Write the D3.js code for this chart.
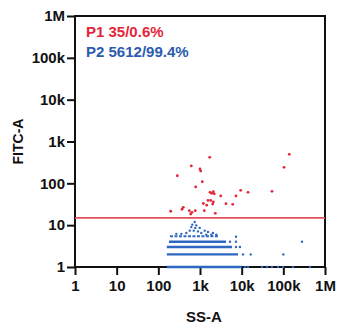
<!DOCTYPE html>
<html>
<head>
<meta charset="utf-8">
<script src="https://cdn.jsdelivr.net/npm/d3@7"></script>
<style>
  html, body { margin: 0; padding: 0; background: #fff; }
  svg { display: block; }
  text { font-family: "Liberation Sans", Arial, sans-serif; font-weight: bold; }
</style>
</head>
<body>
<svg id="chart" width="340" height="334"></svg>
<script>
// Decade ticks shared by both log axes
const tickValues = [1, 10, 100, 1e3, 1e4, 1e5, 1e6];
const tickLabels = ["1", "10", "100", "1k", "10k", "100k", "1M"];

// Gate threshold on FITC-A separating P1 (above) from P2 (below)
const gateFITC = 15;

// P1 events (SS-A, FITC-A)
const p1SS = [139000, 104000, 1710, 618, 1000, 1040, 285, 1135, 789, 1738,
              2085, 2203, 1910, 3140, 9480, 14200, 53400, 7310, 1555, 1805,
              2085, 1200, 1448, 2017, 4205, 6090, 397, 370, 198, 554,
              771, 1268, 643, 598, 2330];
const p1FITC = [494, 242, 419, 260, 220, 197, 152, 109, 82, 61,
                63, 56, 58, 50, 68, 61, 64.5, 50, 39, 39,
                36, 33, 30, 32, 32.6, 31.5, 26.7, 24, 21.5, 22.2,
                22.2, 22.2, 20.3, 18.5, 19.2];

// P2 dense low-FITC bands: FITC level and SS-A extent of the packed events
const bandFITC = [1, 2, 3, 4];
const bandSSmin = [160, 160, 160, 180];
const bandSSmax = [10000, 8170, 5860, 4200];

// Sparser band just above, drawn broken
const sparseBandFITC = 5.4;
const sparseBandSS = [190, 2700];

// P2 isolated events (SS-A, FITC-A)
const p2SS = [12000, 14200, 30700, 40500, 53400, 74400, 98000, 171000, 436000,
              10800, 16500, 100000,
              7300, 9100,
              5250, 7300, 281000,
              7300,
              746, 653, 815, 618, 771, 984, 566, 706, 895, 1297,
              1555, 469, 1074, 2050, 270, 356, 1866, 2460, 1416];
const p2FITC = [1, 1, 1, 1, 1, 1, 1, 1, 1,
                2, 2, 2,
                3, 3,
                4, 4, 4,
                5.3,
                11.9, 10.3, 9.9, 9.0, 8.6, 8.6, 7.4, 7.4, 7.1, 7.4,
                6.9, 6.5, 6.5, 6.5, 6.2, 6.2, 5.9, 5.9, 5.9];

const legendText = ["P1 35/0.6%", "P2 5612/99.4%"];

const red = "#e4263a";
const blue = "#2f68c2";

const svg = d3.select("#chart");
const plotL = 75, plotR = 325, plotT = 16, plotB = 267;

const x = d3.scaleLog().domain([1, 1e6]).range([plotL, plotR]);
const y = d3.scaleLog().domain([1, 1e6]).range([plotB, plotT]);

// Axes
const yAxis = d3.axisLeft(y).tickValues(tickValues)
  .tickFormat((d, i) => tickLabels[i]).tickSize(8).tickPadding(2);
const xAxis = d3.axisBottom(x).tickValues(tickValues)
  .tickFormat((d, i) => tickLabels[i]).tickSize(8).tickPadding(5);

const gy = svg.append("g").attr("transform", `translate(${plotL},0)`).call(yAxis);
const gx = svg.append("g").attr("transform", `translate(0,${plotB})`).call(xAxis);
[gy, gx].forEach(g => {
  g.select(".domain").remove();
  g.selectAll(".tick line").attr("stroke", "#111").attr("stroke-width", 2);
  g.selectAll(".tick text").attr("fill", "#111").style("font-size", "15px");
});

// Plot frame
svg.append("rect")
  .attr("x", plotL).attr("y", plotT)
  .attr("width", plotR - plotL).attr("height", plotB - plotT)
  .attr("fill", "none").attr("stroke", "#111").attr("stroke-width", 2);

// P2 bands
const bands = bandFITC.map((v, i) => ({ v, a: bandSSmin[i], b: bandSSmax[i] }));
svg.append("g").selectAll("line").data(bands).join("line")
  .attr("x1", d => x(d.a)).attr("x2", d => x(d.b))
  .attr("y1", d => y(d.v)).attr("y2", d => y(d.v))
  .attr("stroke", blue).attr("stroke-width", 2.4);

svg.append("line")
  .attr("x1", x(sparseBandSS[0])).attr("x2", x(sparseBandSS[1]))
  .attr("y1", y(sparseBandFITC)).attr("y2", y(sparseBandFITC))
  .attr("stroke", blue).attr("stroke-width", 2)
  .attr("stroke-dasharray", "3,1.5");

// P2 isolated events
svg.append("g").selectAll("circle").data(p2SS).join("circle")
  .attr("cx", d => x(d)).attr("cy", (d, i) => y(p2FITC[i]))
  .attr("r", 1.2).attr("fill", blue);

// P1 events
svg.append("g").selectAll("circle").data(p1SS).join("circle")
  .attr("cx", d => x(d)).attr("cy", (d, i) => y(p1FITC[i]))
  .attr("r", 1.4).attr("fill", red);

// Gate line
svg.append("line")
  .attr("x1", plotL).attr("x2", plotR)
  .attr("y1", y(gateFITC)).attr("y2", y(gateFITC))
  .attr("stroke", "#e2505e").attr("stroke-width", 1.8);

// Population legend
svg.append("g").selectAll("text").data(legendText).join("text")
  .attr("x", 86).attr("y", (d, i) => 37 + i * 20)
  .attr("fill", (d, i) => i === 0 ? red : "#2a5caf")
  .style("font-size", "15px")
  .text(d => d);

// Axis titles
svg.append("text")
  .attr("x", (plotL + plotR) / 2 + 4).attr("y", 322)
  .attr("text-anchor", "middle").attr("fill", "#111")
  .style("font-size", "15px").text("SS-A");

svg.append("text")
  .attr("transform", `translate(23,${(plotT + plotB) / 2}) rotate(-90)`)
  .attr("text-anchor", "middle").attr("fill", "#111")
  .style("font-size", "14px").text("FITC-A");
</script>
</body>
</html>
